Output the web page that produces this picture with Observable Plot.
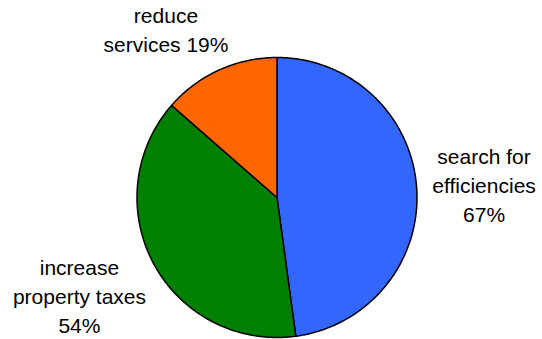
<!DOCTYPE html>
<html><head><meta charset="utf-8">
<script src="https://cdn.jsdelivr.net/npm/d3@7"></script>
<script src="https://cdn.jsdelivr.net/npm/@observablehq/plot@0.6"></script>
<style>body{margin:0;background:#fff}</style>
</head><body><div id="chart"></div>
<script>
const categories = ["search for efficiencies", "increase property taxes", "reduce services"];
const values = [67, 54, 19];
const colors = ["#3366FF", "#008000", "#FF6600"];
const labels = [["search for", "efficiencies", "67%"], ["increase", "property taxes", "54%"], ["reduce", "services 19%"]];

const W = 542, H = 339, cx = 276.5, cy = 197, R = 140;
const pie = d3.pie().sort(null)(values);
const pts = [];
pie.forEach((a, i) => {
  const n = Math.max(2, Math.ceil((a.endAngle - a.startAngle) * 60));
  pts.push({k: categories[i], x: 0, y: 0});
  for (let j = 0; j <= n; j++) {
    const t = a.startAngle + (a.endAngle - a.startAngle) * j / n;
    pts.push({k: categories[i], x: Math.sin(t), y: Math.cos(t)});
  }
  pts.push({k: categories[i], x: 0, y: 0});
});
const labelPos = [[1.479, 0.079], [-1.411, -0.714], [-0.793, 1.193]];
const txt = [];
labels.forEach((ls, i) => {
  const lh = 29 / R;
  const n = ls.length;
  ls.forEach((s, j) => txt.push({x: labelPos[i][0], y: labelPos[i][1] - (j - (n - 1) / 2) * lh, s}));
});
const plot = Plot.plot({
  width: W, height: H, margin: 0,
  x: {domain: [-cx / R, (W - cx) / R], axis: null},
  y: {domain: [-(H - cy) / R, cy / R], axis: null},
  color: {domain: categories, range: colors},
  style: {fontFamily: "'Liberation Sans', Arial, sans-serif"},
  marks: [
    Plot.line(pts, {x: "x", y: "y", z: "k", fill: "k", stroke: "black", strokeWidth: 1.5, curve: "linear"}),
    Plot.text(txt, {x: "x", y: "y", text: "s", fontSize: 21, fill: "black"})
  ]
});
document.getElementById("chart").append(plot);
</script></body></html>
